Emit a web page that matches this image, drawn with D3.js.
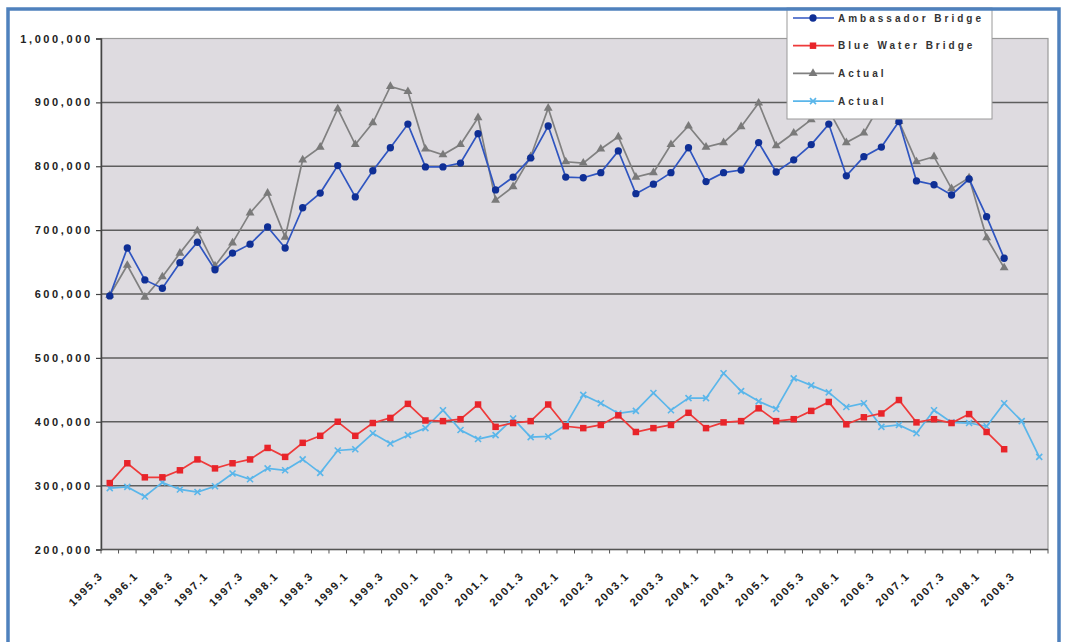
<!DOCTYPE html>
<html>
<head>
<meta charset="utf-8">
<script src="https://cdn.jsdelivr.net/npm/d3@7"></script>
<style>
  html, body { margin: 0; padding: 0; background: #ffffff; }
  svg { display: block; }
  text { font-family: Arial, "Liberation Sans", sans-serif; }
</style>
</head>
<body>
<svg id="chart" width="1067" height="642"></svg>
<script>
// ---------------- DATA ----------------
const categories = ["1995.3","1995.4","1996.1","1996.2","1996.3","1996.4","1997.1","1997.2","1997.3","1997.4",
  "1998.1","1998.2","1998.3","1998.4","1999.1","1999.2","1999.3","1999.4","2000.1","2000.2","2000.3","2000.4",
  "2001.1","2001.2","2001.3","2001.4","2002.1","2002.2","2002.3","2002.4","2003.1","2003.2","2003.3","2003.4",
  "2004.1","2004.2","2004.3","2004.4","2005.1","2005.2","2005.3","2005.4","2006.1","2006.2","2006.3","2006.4",
  "2007.1","2007.2","2007.3","2007.4","2008.1","2008.2","2008.3","2008.4"];

const tickLabels = ["1995.3","1996.1","1996.3","1997.1","1997.3","1998.1","1998.3","1999.1","1999.3","2000.1",
  "2000.3","2001.1","2001.3","2002.1","2002.3","2003.1","2003.3","2004.1","2004.3","2005.1","2005.3","2006.1",
  "2006.3","2007.1","2007.3","2008.1","2008.3"];

const yTicks = [200000, 300000, 400000, 500000, 600000, 700000, 800000, 900000, 1000000];

const ambassador = [597000, 672000, 622000, 609000, 649000, 681000, 638000, 664000, 678000, 705000, 672000, 735000,
  758000, 801000, 752000, 793000, 829000, 866000, 799000, 799000, 805000, 851000, 763000, 783000, 813000, 863000,
  783000, 782000, 790000, 824000, 757000, 772000, 790000, 829000, 776000, 790000, 794000, 837000, 791000, 810000,
  834000, 866000, 785000, 815000, 830000, 870000, 777000, 771000, 755000, 780000, 721000, 656000, null, null];

const blueWater = [304000, 335000, 313000, 313000, 324000, 341000, 327000, 335000, 341000, 359000, 345000, 367000,
  378000, 400000, 378000, 398000, 406000, 428000, 402000, 401000, 404000, 427000, 392000, 398000, 401000, 427000,
  393000, 390000, 395000, 410000, 384000, 390000, 395000, 414000, 390000, 399000, 401000, 421000, 401000, 404000,
  417000, 431000, 396000, 407000, 413000, 434000, 399000, 404000, 398000, 412000, 384000, 357000, null, null];

const actualAmbassador = [598000, 645000, 595000, 627000, 664000, 699000, 644000, 680000, 727000, 758000, 689000, 810000,
  830000, 890000, 834000, 868000, 925000, 917000, 827000, 818000, 834000, 876000, 747000, 768000, 815000, 891000,
  807000, 805000, 827000, 846000, 783000, 790000, 834000, 863000, 830000, 837000, 862000, 899000, 832000, 852000,
  873000, 888000, 837000, 852000, 900000, 870000, 807000, 815000, 765000, 782000, 688000, 641000, null, null];

const actualBlueWater = [296000, 298000, 283000, 305000, 294000, 290000, 299000, 319000, 310000, 327000, 324000, 341000,
  320000, 355000, 357000, 382000, 366000, 379000, 390000, 418000, 387000, 373000, 379000, 405000, 376000, 377000,
  395000, 442000, 429000, 413000, 417000, 445000, 418000, 437000, 437000, 476000, 448000, 432000, 420000, 468000,
  457000, 446000, 423000, 429000, 392000, 395000, 382000, 418000, 399000, 398000, 393000, 429000, 401000, 345000];

const seriesNames = ["Ambassador Bridge", "Blue Water Bridge", "Actual", "Actual"];

// ---------------- CHART ----------------
const svg = d3.select("#chart");
const plot = { left: 101, right: 1048, top: 38.5, bottom: 549.5 };

const x = d3.scalePoint().domain(categories).range([plot.left, plot.right]).padding(0.5);
const y = d3.scaleLinear().domain([200000, 1000000]).range([plot.bottom, plot.top]);

// plot background
svg.append("rect")
  .attr("x", plot.left).attr("y", plot.top)
  .attr("width", plot.right - plot.left).attr("height", plot.bottom - plot.top)
  .attr("fill", "#dedbe0").attr("stroke", "#9a9a9a").attr("stroke-width", 1.2);

// gridlines
svg.append("g").selectAll("line").data(yTicks.slice(1, -1)).join("line")
  .attr("x1", plot.left).attr("x2", plot.right)
  .attr("y1", d => y(d)).attr("y2", d => y(d))
  .attr("stroke", "#5e5e5e").attr("stroke-width", 1.5);

// y axis
const yAxis = d3.axisLeft(y).tickValues(yTicks).tickSize(5).tickPadding(6)
  .tickFormat(d3.format(","));
const gy = svg.append("g").attr("transform", `translate(${plot.left},0)`).call(yAxis);
gy.select(".domain").attr("stroke", "#444").attr("stroke-width", 1.5);
gy.selectAll(".tick line").attr("stroke", "#444").attr("stroke-width", 1.2);
gy.selectAll(".tick text")
  .attr("font-size", 11).attr("font-weight", "bold").attr("fill", "#222")
  .attr("letter-spacing", "2.6px").attr("dx", "2.6px");

// x axis line + ticks
const step = x.step();
const gx = svg.append("g");
gx.append("line").attr("x1", plot.left).attr("x2", plot.right)
  .attr("y1", plot.bottom).attr("y2", plot.bottom)
  .attr("stroke", "#555").attr("stroke-width", 1.5);
gx.selectAll("line.tk").data(categories.concat(["end"])).join("line").attr("class", "tk")
  .attr("x1", (d, i) => plot.left + i * step).attr("x2", (d, i) => plot.left + i * step)
  .attr("y1", plot.bottom).attr("y2", plot.bottom + 4)
  .attr("stroke", "#555").attr("stroke-width", 1);

gx.selectAll("text").data(tickLabels).join("text")
  .attr("transform", d => `translate(${x(d) - 6},${plot.bottom + 27}) rotate(-45)`)
  .attr("text-anchor", "end")
  .attr("font-size", 11).attr("font-weight", "bold").attr("fill", "#222")
  .attr("letter-spacing", "1.6px")
  .text(d => d);

// series
const series = [
  { name: seriesNames[2], values: actualAmbassador, line: "#808080", fill: "#7a7a7a", type: d3.symbolTriangle, size: 34 },
  { name: seriesNames[0], values: ambassador, line: "#2f55c0", fill: "#0f2f95", type: d3.symbolCircle, size: 42 },
  { name: seriesNames[3], values: actualBlueWater, line: "#5ab6ea", fill: "#5ab6ea", type: "x", size: 36 },
  { name: seriesNames[1], values: blueWater, line: "#ee3a3a", fill: "#e8242a", type: d3.symbolSquare, size: 42 }
];

const lineGen = d3.line()
  .defined(d => d.v !== null)
  .x(d => x(d.c)).y(d => y(d.v));

function drawMarker(g, s, size) {
  if (s.type === "x") {
    const r = Math.sqrt(size) / 2;
    g.append("path")
      .attr("d", `M${-r},${-r}L${r},${r}M${-r},${r}L${r},${-r}`)
      .attr("stroke", s.fill).attr("stroke-width", 1.6).attr("fill", "none");
  } else {
    g.append("path").attr("d", d3.symbol().type(s.type).size(size)()).attr("fill", s.fill);
  }
}

series.forEach(s => {
  const pts = categories.map((c, i) => ({ c, v: s.values[i] }));
  const g = svg.append("g");
  g.append("path").datum(pts).attr("d", lineGen)
    .attr("fill", "none").attr("stroke", s.line).attr("stroke-width", 1.7);
  g.selectAll("g.m").data(pts.filter(p => p.v !== null)).join("g").attr("class", "m")
    .attr("transform", p => `translate(${x(p.c)},${y(p.v)})`)
    .each(function () { drawMarker(d3.select(this), s, s.size); });
});

// legend
const legend = svg.append("g");
legend.append("rect").attr("x", 787).attr("y", 8).attr("width", 205).attr("height", 111)
  .attr("fill", "#ffffff").attr("stroke", "#9a9a9a").attr("stroke-width", 1);
const legendItems = [series[1], series[3], series[0], series[2]];
const legendNames = seriesNames;
legendItems.forEach((s, i) => {
  const cy = 18 + i * 27.7;
  const gi = legend.append("g");
  gi.append("line").attr("x1", 793).attr("x2", 834).attr("y1", cy).attr("y2", cy)
    .attr("stroke", s.line).attr("stroke-width", 1.7);
  const gm = gi.append("g").attr("transform", `translate(813,${cy})`);
  drawMarker(gm, s, s.size);
  gi.append("text").attr("x", 838).attr("y", cy).attr("dy", "0.35em")
    .attr("font-size", 10).attr("font-weight", "bold").attr("fill", "#333")
    .attr("letter-spacing", "3px")
    .text(legendNames[i]);
});

// outer frame
svg.append("rect").attr("x", 8).attr("y", 9).attr("width", 1051).attr("height", 700)
  .attr("fill", "none").attr("stroke", "#4f81bd").attr("stroke-width", 3.5);
</script>
</body>
</html>
